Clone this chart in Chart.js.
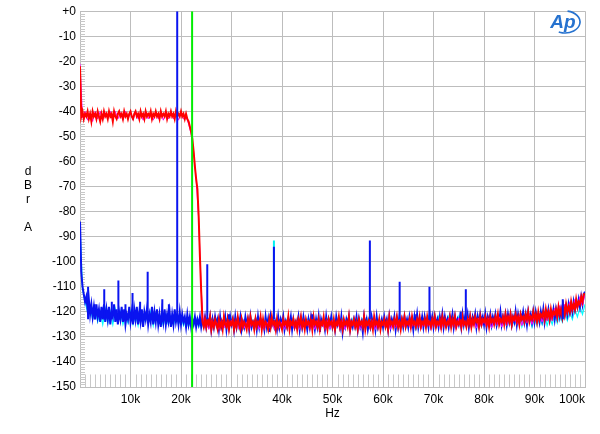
<!DOCTYPE html>
<html>
<head>
<meta charset="utf-8">
<script src="https://cdn.jsdelivr.net/npm/chart.js@4.4.0/dist/chart.umd.min.js"></script>
<style>
html,body{margin:0;padding:0;background:#fff;}
</style>
</head>
<body>
<canvas id="fftChart" width="600" height="434"></canvas>
<script>
var binHz = 250;      // bin spacing of blue / red traces
var coarseHz = 500;   // bin spacing of cyan / magenta traces
var markerHz = 22200; // green marker

// blue, 0..100k in 250 Hz steps (one row = 5 kHz)
var blueFloor = [
 -84,-104,-110,-113,-116,-114,-119,-115,-121,-117,-122,-118,-123,-117,-122,-119,-124,-118,-123,-117,
 -124,-119,-123,-118,-125,-120,-122,-117,-124,-119,-125,-120,-123,-118,-124,-119,-125,-121,-123,-118,
 -124,-120,-125,-119,-123,-118,-125,-120,-124,-119,-126,-120,-123,-119,-125,-121,-124,-118,-125,-120,
 -124,-119,-125,-121,-126,-120,-124,-119,-125,-121,-124,-120,-126,-121,-125,-119,-124,-121,-125,-120,
 -125,-121,-124,-122,-126,-121,-125,-122,-126,-123,-125,-122,-126,-123,-125,-122,-126,-123,-125,-122,
 -126,-123,-125,-122,-127,-123,-126,-122,-125,-123,-127,-122,-126,-124,-125,-122,-127,-123,-126,-122,
 -125,-123,-127,-122,-126,-123,-125,-122,-127,-124,-126,-122,-125,-123,-127,-122,-126,-124,-125,-123,
 -127,-122,-126,-123,-125,-124,-127,-122,-126,-123,-128,-122,-125,-123,-126,-124,-127,-122,-126,-123,
 -125,-122,-127,-124,-126,-123,-125,-122,-127,-123,-126,-124,-125,-122,-127,-123,-126,-122,-125,-124,
 -127,-123,-126,-122,-125,-124,-127,-123,-126,-122,-128,-123,-125,-124,-127,-122,-126,-123,-125,-122,
 -126,-124,-127,-122,-125,-123,-126,-122,-128,-124,-126,-123,-125,-122,-127,-124,-126,-123,-125,-122,
 -127,-123,-126,-124,-128,-122,-125,-123,-127,-124,-126,-122,-125,-123,-127,-122,-126,-124,-125,-123,
 -126,-122,-125,-123,-127,-122,-126,-123,-125,-122,-127,-123,-126,-122,-125,-123,-126,-122,-125,-123,
 -126,-122,-125,-123,-127,-122,-125,-121,-126,-123,-125,-122,-126,-122,-125,-123,-126,-121,-125,-122,
 -126,-122,-125,-123,-126,-122,-125,-121,-126,-122,-125,-123,-126,-122,-124,-121,-126,-122,-125,-123,
 -125,-122,-126,-121,-125,-122,-124,-121,-126,-122,-125,-122,-124,-121,-126,-122,-125,-121,-124,-122,
 -125,-121,-126,-122,-124,-121,-125,-122,-124,-121,-125,-122,-124,-120,-125,-122,-124,-121,-125,-121,
 -124,-121,-125,-122,-124,-120,-125,-121,-124,-121,-123,-120,-124,-121,-125,-120,-123,-121,-124,-120,
 -124,-120,-123,-121,-124,-120,-123,-119,-124,-120,-122,-119,-123,-120,-122,-119,-123,-119,-122,-119,
 -122,-119,-122,-118,-121,-118,-121,-117,-120,-117,-120,-116,-119,-116,-118,-115,-118,-114,-117,-113,
 -112
];

// red, 0..100k in 250 Hz steps
var redTrace = [
 -22,-42,-40,-43,-41,-42,-40,-43,-41,-44,-40,-42,-41,-43,-40,-42,-44,-41,-43,-40,
 -42,-41,-43,-40,-42,-41,-44,-40,-42,-43,-41,-40,-42,-41,-43,-40,-42,-41,-43,-41,
 -40,-42,-43,-41,-40,-42,-41,-43,-40,-42,-41,-43,-40,-42,-41,-42,-40,-43,-41,-42,
 -40,-42,-41,-43,-40,-42,-41,-42,-40,-43,-41,-42,-40,-42,-41,-43,-40,-42,-41,-42,
 -40,-42,-41,-43,-41,-43,-44,-46,-48,-51,-56,-62,-67,-71,-82,-98,-112,-124,-126,-123,
 -126,-123,-125,-122,-127,-124,-126,-123,-125,-127,-123,-126,-124,-127,-122,-125,-126,-123,-127,-124,
 -125,-123,-127,-124,-126,-122,-125,-127,-123,-126,-124,-125,-127,-123,-126,-122,-125,-124,-127,-123,
 -126,-124,-125,-122,-127,-123,-126,-124,-125,-127,-123,-126,-122,-125,-124,-127,-123,-126,-124,-125,
 -127,-123,-125,-124,-126,-122,-127,-124,-125,-123,-126,-124,-127,-123,-125,-122,-126,-124,-127,-123,
 -125,-124,-126,-123,-127,-122,-125,-124,-126,-123,-127,-124,-125,-122,-126,-124,-127,-123,-125,-124,
 -126,-123,-127,-124,-125,-122,-126,-124,-127,-123,-125,-124,-126,-122,-127,-124,-125,-123,-126,-124,
 -127,-123,-125,-124,-126,-122,-127,-124,-125,-123,-126,-124,-127,-122,-125,-124,-126,-123,-127,-124,
 -125,-123,-126,-124,-127,-122,-125,-124,-126,-123,-125,-122,-126,-124,-127,-123,-125,-122,-126,-124,
 -125,-123,-126,-122,-125,-124,-126,-123,-125,-122,-126,-124,-125,-123,-126,-122,-125,-124,-126,-123,
 -125,-122,-126,-124,-125,-123,-126,-122,-125,-123,-126,-124,-125,-122,-126,-123,-125,-122,-126,-124,
 -125,-123,-126,-122,-125,-124,-126,-123,-125,-122,-126,-123,-125,-122,-124,-123,-126,-122,-125,-123,
 -124,-122,-125,-123,-126,-122,-124,-123,-125,-122,-124,-121,-125,-123,-124,-122,-125,-121,-124,-122,
 -124,-121,-125,-122,-123,-121,-124,-122,-125,-121,-123,-122,-124,-121,-123,-120,-124,-122,-123,-120,
 -123,-121,-124,-120,-123,-121,-122,-120,-123,-119,-122,-120,-123,-119,-122,-120,-121,-119,-122,-118,
 -121,-119,-122,-118,-121,-117,-120,-118,-120,-116,-119,-117,-119,-115,-118,-116,-117,-114,-116,-113,
 -113
];

// cyan, 0..100k in 500 Hz steps (one row = 10 kHz)
var cyanFloor = [
 -86,-111,-116,-120,-118,-123,-119,-124,-120,-125,-119,-124.5,-120,-125,-119,-124,-120,-125,-121,-124.5,
 -120,-125,-121,-125.5,-120,-125,-121,-124.5,-120,-125.5,-121,-125,-122,-125.5,-121,-125,-122,-125.5,-121,-125,
 -122,-125.5,-123,-126,-122,-125.5,-123,-126,-123,-126.5,-123,-126,-123,-126.5,-123,-127,-123,-126,-123,-126.5,
 -123,-126,-123,-127,-123,-126.5,-123,-126,-123,-127,-123,-126.5,-123,-126,-123,-127,-123,-126,-123,-126.5,
 -123,-127,-123,-126,-123,-126.5,-123,-127,-123,-126,-123,-126.5,-123,-127,-123,-126,-123,-126.5,-123,-127,
 -123,-126,-123,-127,-123,-126.5,-123,-126,-123,-127,-123,-126.5,-123,-126,-123,-127,-123,-126.5,-123,-126,
 -123,-126.5,-123,-126,-123,-127,-123,-126,-123,-126.5,-123,-126,-123,-127,-123,-126,-123,-126.5,-122,-126,
 -123,-126,-122,-126.5,-123,-126,-122,-126.5,-123,-126,-122,-126.5,-123,-126,-122,-126,-123,-126.5,-122,-126,
 -123,-126,-122,-126.5,-123,-126,-122,-125.5,-123,-126,-122,-126,-123,-125.5,-122,-126,-123,-125.5,-122,-126,
 -122,-125.5,-122,-125,-121,-125.5,-122,-125,-121,-124.5,-121,-124,-120,-123.5,-120,-123,-119,-122,-118,-121,
 -117
];

// magenta, 0..100k in 500 Hz steps
var magentaTrace = [
 -21,-42.5,-40,-43.5,-40.5,-44,-40,-43,-40,-43.5,-40.5,-43,-40,-43.5,-40,-43,-40.5,-43.5,-40,-43,
 -40.5,-43.5,-40,-43,-40.5,-43.5,-40,-43,-40.5,-43.5,-40.5,-43,-40,-43.5,-40.5,-43,-40,-43,-40.5,-43.5,
 -40.5,-43,-42,-45,-49,-56,-67,-83,-111,-126.5,-124,-127,-123.5,-126.5,-124,-127,-123.5,-126.5,-124,-127,
 -123.5,-126.5,-124,-127,-123.5,-126.5,-124,-127,-123.5,-126.5,-124,-127,-123.5,-127,-124,-126.5,-123.5,-127,-124,-126.5,
 -124,-127,-123.5,-126.5,-124,-127,-123.5,-127,-124,-126.5,-123.5,-127,-124,-127,-123.5,-126.5,-124,-127,-123.5,-127,
 -123.5,-126.5,-124,-127,-123.5,-127,-124,-126.5,-123.5,-127,-124,-127,-123.5,-126.5,-124,-127,-123.5,-127,-124,-126.5,
 -124,-126.5,-123.5,-127,-124,-126.5,-123.5,-127,-124,-126.5,-123.5,-127,-124,-126.5,-123.5,-127,-124,-126.5,-123.5,-127,
 -123.5,-126.5,-124,-127,-123.5,-126.5,-122.5,-126.5,-123.5,-127,-122.5,-126.5,-123.5,-126,-122.5,-126.5,-123.5,-126.5,-122.5,-126,
 -123,-126,-122.5,-126.5,-123,-125.5,-122,-126,-123,-125.5,-121.5,-125.5,-122,-125,-121.5,-125.5,-122,-124.5,-121,-125,
 -121,-124.5,-120.5,-124,-121,-123.5,-119.5,-123.5,-118.5,-122.5,-117.5,-121.5,-117,-120.5,-116,-119.5,-115,-118.5,-114,-117.5,
 -113
];

// discrete tones
var blueSpikeHz = [1600, 2900, 4800, 6300, 7600, 9000, 10400, 11900, 13400, 16300, 17600, 19250,
                   25200, 29500, 38400, 46000, 57400, 63300, 66300, 69200, 75400, 76400, 95600];
var blueSpikeDb = [-110, -117, -111, -116, -107.5, -117, -112.5, -116, -104, -115, -117, 0,
                   -101, -121, -94, -121, -91.5, -108, -121, -110, -120, -111, -115];
var cyanSpikeHz = [38400];
var cyanSpikeDb = [-91.5];

var xTickLabels = ['', '10k', '20k', '30k', '40k', '50k', '60k', '70k', '80k', '90k', '100k'];
var yTitleLetters = ['d', 'B', 'r', '', 'A'];

var gridColor = '#bdbdbd';

function toPoints(values, step) {
  var pts = [];
  for (var i = 0; i < values.length; i++) {
    pts.push({x: i * step, y: values[i]});
  }
  return pts;
}

function spikePoints(hz, db, base) {
  var pts = [];
  for (var i = 0; i < hz.length; i++) {
    pts.push({x: hz[i], y: base});
    pts.push({x: hz[i], y: db[i]});
    pts.push({x: hz[i], y: null});   // break between spikes
  }
  return pts;
}

function trace(label, data, color, width) {
  return {
    label: label,
    data: data,
    borderColor: color,
    backgroundColor: color,
    borderWidth: width,
    pointRadius: 0,
    tension: 0,
    spanGaps: false
  };
}

// minor ticks, y title letters and the Ap mark
var apDecor = {
  id: 'apDecor',
  beforeDatasetsDraw: function(chart) {
    var ctx = chart.ctx;
    var xs = chart.scales.x, ys = chart.scales.y;
    var area = chart.chartArea;
    ctx.save();
    ctx.strokeStyle = '#c8c8c8';
    ctx.lineWidth = 1;
    ctx.beginPath();
    for (var db = -149; db < 0; db++) {
      if (db % 10 === 0) continue;
      var py = Math.round(ys.getPixelForValue(db)) + 0.5;
      ctx.moveTo(area.left, py);
      ctx.lineTo(area.left + 5, py);
    }
    for (var f = 1000; f < 100000; f += 1000) {
      if (f % 10000 === 0) continue;
      var px = Math.round(xs.getPixelForValue(f)) + 0.5;
      ctx.moveTo(px, area.bottom);
      ctx.lineTo(px, ys.getPixelForValue(-145));
    }
    ctx.stroke();
    ctx.restore();
  },
  afterDraw: function(chart) {
    var ctx = chart.ctx;
    ctx.save();
    ctx.fillStyle = '#000';
    ctx.font = '12px "Liberation Sans", Arial, sans-serif';
    ctx.textAlign = 'center';
    ctx.textBaseline = 'middle';
    for (var i = 0; i < yTitleLetters.length; i++) {
      ctx.fillText(yTitleLetters[i], 28, 172 + i * 14);
    }
    // Ap logo
    ctx.fillStyle = '#2672cf';
    ctx.strokeStyle = '#2672cf';
    ctx.font = 'italic bold 19px "Liberation Sans", Arial, sans-serif';
    ctx.fillText('Ap', 563, 23);
    ctx.lineWidth = 1.6;
    ctx.beginPath();
    ctx.ellipse(565, 22, 15, 11, 0, -1.4, 2.0);
    ctx.stroke();
    ctx.restore();
  }
};

Chart.defaults.font.family = '"Liberation Sans", Arial, sans-serif';
Chart.defaults.font.size = 12;
Chart.defaults.color = '#000';

var ctx = document.getElementById('fftChart');
var myChart = new Chart(ctx, {
  type: 'line',
  data: {
    datasets: [
      trace('marker', [{x: markerHz, y: 0}, {x: markerHz, y: -150}], '#00ee00', 2),
      trace('blue tones', spikePoints(blueSpikeHz, blueSpikeDb, -123), '#0a14f0', 2),
      trace('cyan tones', spikePoints(cyanSpikeHz, cyanSpikeDb, -123), '#00f0f0', 2),
      trace('red', toPoints(redTrace, binHz), '#ff0000', 2),
      trace('magenta', toPoints(magentaTrace, coarseHz), '#ff00ff', 1),
      trace('blue', toPoints(blueFloor, binHz), '#0a14f0', 2),
      trace('cyan', toPoints(cyanFloor, coarseHz), '#00ffff', 1.2)
    ]
  },
  options: {
    responsive: false,
    animation: false,
    events: [],
    layout: {padding: {left: 0, right: 15, top: 10, bottom: 0}},
    plugins: {legend: {display: false}, tooltip: {enabled: false}},
    scales: {
      x: {
        type: 'linear',
        min: 0,
        max: 100000,
        afterFit: function(scale) { scale.height = 47; },
        grid: {color: gridColor, drawTicks: false},
        border: {color: gridColor},
        ticks: {
          stepSize: 10000,
          autoSkip: false,
          maxRotation: 0,
          align: 'inner',
          padding: 5,
          callback: function(v, i) { return xTickLabels[i]; }
        },
        title: {display: true, text: 'Hz', font: {size: 12}, padding: {top: 0, bottom: 13}}
      },
      y: {
        min: -150,
        max: 0,
        afterFit: function(scale) { scale.width = 80; },
        grid: {color: gridColor, drawTicks: false},
        border: {color: gridColor},
        ticks: {
          stepSize: 10,
          padding: 4,
          callback: function(v) { return v === 0 ? '+0' : String(v); }
        }
      }
    }
  },
  plugins: [apDecor]
});
</script>
</body>
</html>
